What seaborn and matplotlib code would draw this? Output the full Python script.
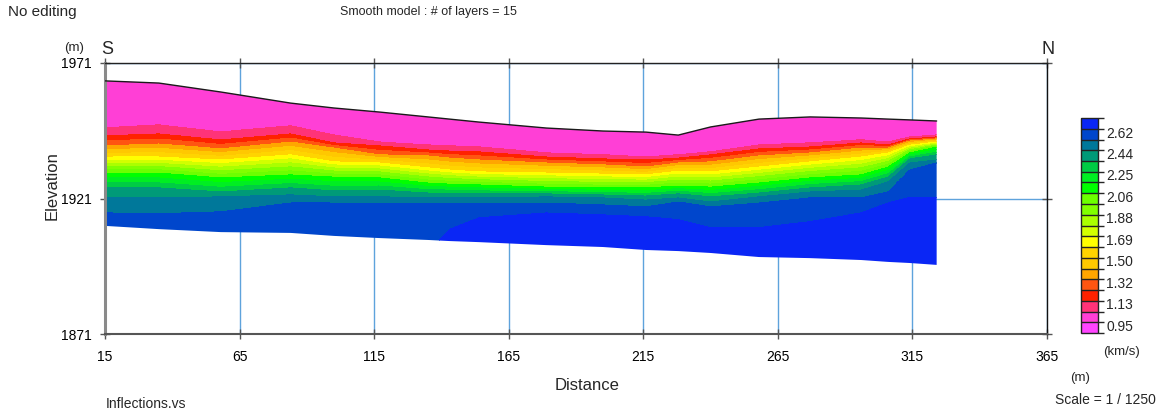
import numpy as np
import matplotlib
matplotlib.use("Agg")
import matplotlib.pyplot as plt
from matplotlib.colors import ListedColormap, BoundaryNorm
from matplotlib.patches import Polygon
import seaborn as sns

# ---------------------------------------------------------------------------
# Model columns along the line (distance in m)
distance = [15, 35, 58, 84, 100, 117, 135, 143, 154, 179, 200, 216, 228, 240,
            258, 277, 296, 306, 314, 324]

# Ground surface and bottom of the model (elevation, m)
elev_surface = [1964.4, 1963.6, 1960.3, 1956.2, 1954.4, 1952.9, 1951.1, 1950.3,
                1949.2, 1947.0, 1945.9, 1945.5, 1944.4, 1947.4, 1950.3, 1951.1,
                1950.7, 1950.3, 1950.0, 1949.6]
elev_base = [1910.9, 1909.7, 1908.6, 1908.3, 1907.2, 1906.4, 1905.7, 1905.3,
             1904.9, 1903.8, 1903.1, 1902.0, 1901.6, 1900.9, 1899.4, 1899.0,
             1898.3, 1897.6, 1897.2, 1896.5]

# Elevation (m) of the iso-velocity surfaces in each column
iso_1071 = [1947.0, 1948.1, 1945.5, 1947.8, 1944.4, 1941.8, 1940.7, 1940.4,
            1940.0, 1937.8, 1937.1, 1936.3, 1937.1, 1938.2, 1940.7, 1941.5,
            1942.6, 1941.8, 1943.7, 1944.4]
iso_1164 = [1944.1, 1944.8, 1942.6, 1944.8, 1941.5, 1940.4, 1938.9, 1938.5,
            1938.2, 1936.3, 1935.6, 1935.2, 1935.9, 1937.1, 1939.3, 1940.0,
            1941.5, 1940.7, 1943.0, 1943.7]
iso_1350 = [1940.4, 1941.1, 1939.3, 1941.8, 1939.6, 1937.1, 1936.7, 1935.9,
            1935.2, 1934.1, 1933.4, 1932.6, 1934.1, 1934.5, 1936.7, 1937.8,
            1939.6, 1939.6, 1942.2, 1943.0]
iso_1628 = [1936.3, 1936.3, 1935.2, 1937.1, 1934.5, 1934.1, 1932.3, 1931.5,
            1930.8, 1930.4, 1930.0, 1929.7, 1931.1, 1930.8, 1932.6, 1934.5,
            1936.3, 1937.8, 1940.7, 1941.8]
iso_2092 = [1930.4, 1930.4, 1928.6, 1929.7, 1928.9, 1928.6, 1926.7, 1926.3,
            1926.0, 1925.2, 1924.9, 1924.9, 1925.6, 1925.2, 1926.7, 1928.6,
            1929.7, 1932.6, 1937.8, 1940.0]
iso_2371 = [1924.9, 1924.9, 1923.4, 1924.9, 1923.8, 1924.1, 1923.0, 1923.0,
            1922.7, 1922.7, 1922.3, 1921.9, 1922.7, 1921.6, 1923.0, 1924.9,
            1926.0, 1928.9, 1935.6, 1937.1]
iso_2464 = [1921.2, 1921.2, 1921.6, 1922.3, 1921.6, 1921.6, 1921.2, 1921.2,
            1921.2, 1921.6, 1921.2, 1920.4, 1921.2, 1919.7, 1921.6, 1923.4,
            1924.1, 1927.1, 1934.1, 1935.2]
iso_2557 = [1915.6, 1915.3, 1916.0, 1919.3, 1919.3, 1919.3, 1919.3, 1919.3,
            1919.3, 1919.3, 1918.6, 1917.9, 1919.7, 1917.9, 1919.3, 1921.2,
            1921.2, 1923.4, 1931.5, 1934.1]
iso_2650 = [1900.5, 1900.5, 1900.5, 1900.5, 1900.5, 1900.5, 1900.5, 1909.4,
            1913.8, 1915.6, 1914.9, 1914.2, 1913.1, 1910.1, 1910.1, 1912.3,
            1915.6, 1919.3, 1921.2, 1921.2]

surface_velocity = 1.00
deep_velocity = 2.72
deep_elevation = 1880.0
iso_velocity = [1.071, 1.164, 1.350, 1.628, 2.092, 2.371, 2.464, 2.557, 2.650]

# Colour classes of the velocity scale (km/s), slowest first
class_colors = ["#ff44ff", "#ff3fd6", "#ff3378", "#ff2200", "#ff5511",
                "#ffa600", "#ffc800", "#ffd400", "#ffff00", "#d2ff00",
                "#aaff00", "#80ff00", "#6cff00", "#00ff00", "#00ee22",
                "#00cc44", "#009a78", "#00789a", "#0046cc", "#0a26f5"]
class_low, class_high = 0.885, 2.741
scale_labels = ["0.95", "1.13", "1.32", "1.50", "1.69", "1.88", "2.06",
                "2.25", "2.44", "2.62"]
scale_values = [0.95, 1.136, 1.321, 1.507, 1.692, 1.878, 2.064, 2.249,
                2.435, 2.62]

x_ticks = [15, 65, 115, 165, 215, 265, 315, 365]
y_ticks = [1871, 1921, 1971]

# ---------------------------------------------------------------------------
sns.set_theme(style="white")
plt.rcParams["font.family"] = ["Liberation Sans", "DejaVu Sans"]

W, H = 1159, 416
fig = plt.figure(figsize=(W / 100, H / 100), dpi=100)
fig.patch.set_facecolor("white")
ax = fig.add_axes([105 / W, 1 - 334 / H, 942 / W, 271 / H])

# Velocity grid built from the interfaces of every column
xg = np.linspace(distance[0], distance[-1], 800)
zg = np.linspace(1885, 1970, 600)
interfaces = [elev_surface, iso_1071, iso_1164, iso_1350, iso_1628, iso_2092,
              iso_2371, iso_2464, iso_2557, iso_2650]
knot_v = np.array([surface_velocity] + iso_velocity)
E = np.array([np.interp(xg, distance, arr) for arr in interfaces])
V = np.empty((zg.size, xg.size))
for j in range(xg.size):
    ez = np.r_[deep_elevation, E[::-1, j]]
    vz = np.r_[deep_velocity, knot_v[::-1]]
    V[:, j] = np.interp(zg, ez, vz)

edges = np.linspace(class_low, class_high, len(class_colors) + 1)
cmap = ListedColormap(sns.color_palette(class_colors))
norm = BoundaryNorm(edges, cmap.N)
cs = ax.contourf(xg, zg, V, levels=edges, cmap=cmap, norm=norm, zorder=1)

# Clip the section to the ground surface and the model base
top = np.interp(xg, distance, elev_surface)
bot = np.interp(xg, distance, elev_base)
verts = np.r_[np.c_[xg, top], np.c_[xg[::-1], bot[::-1]]]
clip = Polygon(verts, closed=True, transform=ax.transData,
               facecolor="none", edgecolor="none")
cs.set_clip_path(clip)

sns.lineplot(x=distance, y=elev_surface, color="#1a1a1a", lw=1.0, ax=ax,
             zorder=3)

ax.set_xlim(15, 365)
ax.set_ylim(1871, 1971)
ax.set_xticks(x_ticks)
ax.set_yticks(y_ticks)
ax.set_xlabel("")
ax.set_ylabel("")
ax.set_axisbelow(True)
ax.grid(True, color="#5ea3dc", lw=1.0, zorder=0.5)
ax.tick_params(axis="both", direction="inout", length=7, width=1,
               color="#555555", bottom=True, left=True, top=True, right=True,
               labelsize=10, labelcolor="black")
ax.tick_params(axis="x", pad=8)
ax.tick_params(axis="y", pad=6)
ax.spines["left"].set_color("#8a8a8a")
ax.spines["left"].set_linewidth(2.2)
ax.spines["bottom"].set_color("#555555")
ax.spines["bottom"].set_linewidth(1.5)
ax.spines["top"].set_color("#222222")
ax.spines["top"].set_linewidth(1.0)
ax.spines["right"].set_color("#111111")
ax.spines["right"].set_linewidth(1.0)
for s in ax.spines.values():
    s.set_visible(True)

# Velocity scale
cax = fig.add_axes([1081 / W, 1 - 333 / H, 17 / W, 215 / H])
cb = fig.colorbar(cs, cax=cax, drawedges=True, ticks=scale_values)
cb.set_ticklabels(scale_labels)
cb.outline.set_edgecolor("#222222")
cb.outline.set_linewidth(1.0)
cb.dividers.set_color("#222222")
cb.dividers.set_linewidth(1.0)
cax.tick_params(length=0, pad=6, labelsize=10)


def ftext(x, y, s, **kw):
    fig.text(x / W, 1 - y / H, s, va="center", **kw)


ftext(8, 12, "No editing", ha="left", fontsize=11)
ftext(428, 12, "Smooth model : # of layers = 15", ha="center", fontsize=9)
ftext(84, 48, "(m)", ha="right", fontsize=9.5)
ftext(107, 50, "S", ha="center", fontsize=13)
ftext(1048, 50, "N", ha="center", fontsize=13)
ftext(52, 186, "Elevation", ha="center", rotation=90, fontsize=12)
ftext(587, 385, "Distance", ha="center", fontsize=12)
ftext(106, 404, "Inflections.vs", ha="left", fontsize=10)
ftext(1080, 378, "(m)", ha="center", fontsize=9.5)
ftext(1122, 352, "(km/s)", ha="center", fontsize=9.5)
ftext(1156, 400, "Scale = 1 / 1250", ha="right", fontsize=10)

fig.savefig("out.png", dpi=100, facecolor="white")
